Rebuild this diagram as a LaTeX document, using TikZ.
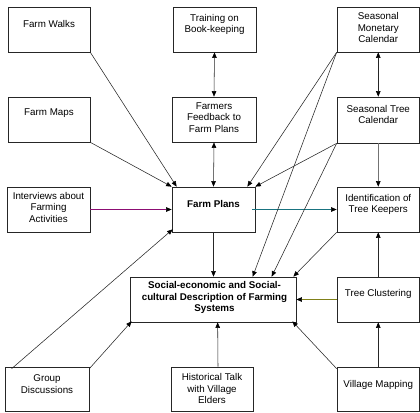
\documentclass[tikz,border=0pt]{standalone}
\usepackage{fontspec}
\setmainfont{Liberation Sans}
\usetikzlibrary{arrows.meta,calc}
\definecolor{lnmag}{rgb}{0.55,0.05,0.45}
\definecolor{lnteal}{rgb}{0.1,0.45,0.5}
\definecolor{lnolive}{rgb}{0.5,0.5,0.1}
\begin{document}
\begin{tikzpicture}[x=1pt,y=-1pt,
  box/.style={draw=black!85, line width=0.7pt, inner sep=0pt, minimum width=#1},
  box/.default=83pt,
  lbl/.style={font=\fontsize{9.8}{11.5}\selectfont, align=center, inner sep=0pt},
  blbl/.style={lbl, font=\fontsize{9.8}{11.5}\selectfont\bfseries},
  con/.style={line width=0.55pt, draw=black!85},
  arr/.style={con, -{Triangle[length=5.5pt,width=4.5pt,fill=black,color=black]}},
  darr/.style={con, {Triangle[length=5.5pt,width=4.5pt,fill=black,color=black]}-{Triangle[length=5.5pt,width=4.5pt,fill=black,color=black]}}
]
\useasboundingbox (0,0) rectangle (420,412);
% boxes: (x1,y1) rectangle (x2,y2) via center + size
\node[box=82pt, minimum height=45pt] (fw) at (49,29.5) {};
\node[box=82pt, minimum height=45pt] (fm) at (49,119.5) {};
\node[box=83pt, minimum height=45pt] (iv) at (48.5,209.5) {};
\node[box=84pt, minimum height=44pt] (gd) at (47,389) {};
\node[box=83pt, minimum height=45pt] (tb) at (214.5,29.5) {};
\node[box=84pt, minimum height=45pt] (ff) at (214,119.5) {};
\node[box=83pt, minimum height=45pt] (fp) at (213.5,209.5) {};
\node[box=166pt, minimum height=45pt] (se) at (213,299.5) {};
\node[box=82pt, minimum height=44pt] (ht) at (212,389) {};
\node[box=82.5pt, minimum height=45pt] (sm) at (378.25,29.5) {};
\node[box=82.5pt, minimum height=46pt] (st) at (378.25,120) {};
\node[box=82.5pt, minimum height=45pt] (id) at (378.25,209.5) {};
\node[box=82.5pt, minimum height=45pt] (tc) at (378.25,299.5) {};
\node[box=82.5pt, minimum height=44pt] (vm) at (378.25,389) {};
% labels
\node[lbl] (fwt) at (49,23.5) {Farm Walks};
\node[lbl] (fmt) at (49,113.5) {Farm Maps};
\node[lbl] (ivt) at (48.5,207) {Interviews about\\Farming\\Activities};
\node[lbl] (gdt) at (47,384) {Group\\Discussions};
\node[lbl] (tbt) at (214.5,24.5) {Training on\\Book-keeping};
\node[lbl] (fft) at (214,117.5) {Farmers\\Feedback to\\Farm Plans};
\node[blbl] (fpt) at (213.5,203.5) {Farm Plans};
\node[blbl] (set) at (214.5,297.5) {Social-economic and Social-\\cultural Description of Farming\\Systems};
\node[lbl] (htt) at (212,388.5) {Historical Talk\\with Village\\Elders};
\node[lbl] (smt) at (378.25,27.5) {Seasonal\\Monetary\\Calendar};
\node[lbl] (stt) at (378.25,114.5) {Seasonal Tree\\Calendar};
\node[lbl] (idt) at (378.25,204.5) {Identification of\\Tree Keepers};
\node[lbl] (tct) at (378.25,293.5) {Tree Clustering};
\node[lbl] (vmt) at (378.25,385) {Village Mapping};
% connectors
\draw[arr] (fw.south east) -- ($(fp.north west)+(5,0)$);
\draw[arr] (fm.south east) -- (fp.north west);
\draw[arr, draw=lnmag] (iv.east) -- (fp.west);
\draw[arr] ($(gd.north west)+(7,2)$) -- ($(fp.south west)+(1,-3)$);
\draw[arr] ($(gd.north east)+(0,2)$) -- ($(se.south west)+(2,-1)$);
\draw[darr] (tb.south) -- (ff.north);
\draw[darr] (ff.south) -- (fp.north);
\draw[arr] (fp.south) -- (fp.south |- se.north);
\draw[arr, draw=lnteal] ($(fp.east)+(-3,0)$) -- (id.west);
\draw[arr] (sm.south west) -- ($(fp.north east)+(-8,0)$);
\draw[arr] (sm.south west) -- ($(se.north west)+(123,0)$);
\draw[arr] (st.south west) -- (fp.north east);
\draw[arr] (st.south west) -- ($(se.north west)+(142,0)$);
\draw[arr] (id.south west) -- ($(se.north east)+(-3,0)$);
\draw[darr] (sm.south) -- (st.north);
\draw[arr, draw=black!55] (st.south) -- (id.north);
\draw[arr] (tc.north) -- (id.south);
\draw[arr] (vm.north) -- (tc.south);
\draw[arr, draw=lnolive] (tc.west) -- (se.east);
\draw[arr] ($(vm.north west)+(0,2)$) -- ($(se.south east)+(-4,-1)$);
\draw[arr] ($(ht.north)+(6,0)$) -- ($(se.south west)+(88,0)$);
\end{tikzpicture}
\end{document}
